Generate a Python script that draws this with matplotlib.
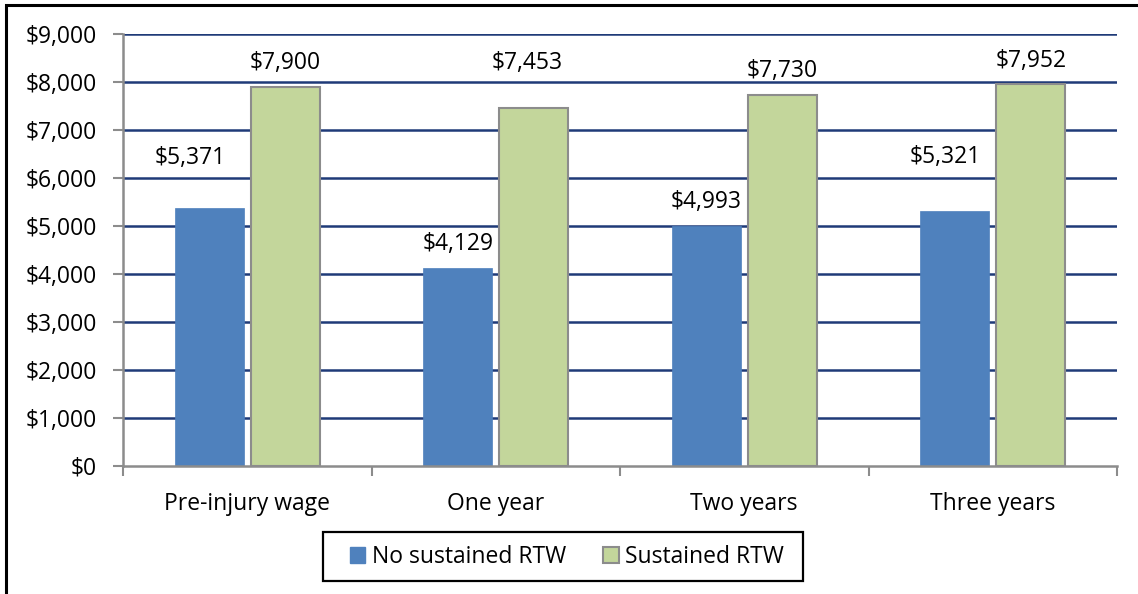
import matplotlib
matplotlib.use("Agg")
import matplotlib.pyplot as plt
from matplotlib.patches import Rectangle
import numpy as np

categories = ["Pre-injury wage", "One year", "Two years", "Three years"]
no_sustained = [5371, 4129, 4993, 5321]
sustained = [7900, 7453, 7730, 7952]
series_names = ["No sustained RTW", "Sustained RTW"]
y_ticks = [0, 1000, 2000, 3000, 4000, 5000, 6000, 7000, 8000, 9000]

# label offsets in pixels (dx, dy) above bar tops, as placed in the reference
blue_label_off = [(-19, 53), (0, 27), (0, 27), (-9, 56)]
green_label_off = [(0, 27), (-7, 48), (0, 27), (0, 26)]

plt.rcParams['font.family'] = ['Open Sans', 'DejaVu Sans']
FS = 16.5

fig = plt.figure(figsize=(11.38, 5.94), dpi=100)
W, H = 1138, 594
ax = fig.add_axes([123 / W, 1 - 466 / H, (1117 - 123) / W, (466 - 34) / H])

blue = "#4F81BD"
green = "#C3D69B"
grid_c = "#1F3A78"
axis_c = "#8C8C8C"

x = np.arange(len(categories))
bw = 0.278
off = 0.153
b1 = ax.bar(x - off, no_sustained, bw, color=blue, edgecolor=blue, linewidth=0.5, zorder=3)
b2 = ax.bar(x + off, sustained, bw, color=green, edgecolor=axis_c, linewidth=1.5, zorder=3)

ax.set_xlim(-0.5, len(categories) - 0.5)
ax.set_ylim(0, 9000)
ax.set_yticks(y_ticks)
ax.set_yticklabels([f"${v:,}" for v in y_ticks], fontsize=FS)
for v in y_ticks[1:]:
    ax.axhline(v, color=grid_c, linewidth=1.8, zorder=1)

ax.set_xticks(np.arange(-0.5, len(categories)), minor=False)
ax.set_xticklabels([])
ax.set_xticks(x, minor=True)
ax.set_xticklabels(categories, minor=True, fontsize=FS)
ax.tick_params(axis='x', which='minor', length=0, pad=19)
ax.tick_params(axis='x', which='major', length=7, width=1.5, color=axis_c, direction='out')
ax.tick_params(axis='y', length=7, width=1.5, color=axis_c, direction='out', pad=12)

for s in ["top", "right"]:
    ax.spines[s].set_visible(False)
for s in ["left", "bottom"]:
    ax.spines[s].set_color(axis_c)
    ax.spines[s].set_linewidth(1.8)
    ax.spines[s].set_zorder(4)

px2pt = 72 / 100
for bars, vals, offs in [(b1, no_sustained, blue_label_off), (b2, sustained, green_label_off)]:
    for rect, v, (dx, dy) in zip(bars, vals, offs):
        ax.annotate(f"${v:,}", (rect.get_x() + rect.get_width() / 2, v),
                    xytext=(dx * px2pt, dy * px2pt - 2), textcoords="offset points",
                    ha="center", va="center", fontsize=FS, zorder=5)

handles = [Rectangle((0, 0), 1, 1, facecolor=blue, edgecolor=blue),
           Rectangle((0, 0), 1, 1, facecolor=green, edgecolor=axis_c, linewidth=1.5)]
leg = fig.legend(handles, series_names, loc="center",
                 bbox_to_anchor=(567 / W, 1 - 557 / H), ncol=2, fontsize=FS,
                 frameon=False,
                 handlelength=0.68, handleheight=0.68, handletextpad=0.3,
                 columnspacing=1.6, borderpad=0, borderaxespad=0)

# legend box
fig.add_artist(Rectangle((323 / W, 1 - 581 / H), (803 - 323) / W, (581 - 532) / H,
                         transform=fig.transFigure, fill=False, edgecolor="black",
                         linewidth=1.6))

# outer chart border (extends past right/bottom edges as in the reference)
fig.add_artist(Rectangle((6 / W, -0.05), 1.2, 1 - 5 / H + 0.05, transform=fig.transFigure,
                         fill=False, edgecolor="black", linewidth=2.2))

fig.savefig("out.png", dpi=100)
